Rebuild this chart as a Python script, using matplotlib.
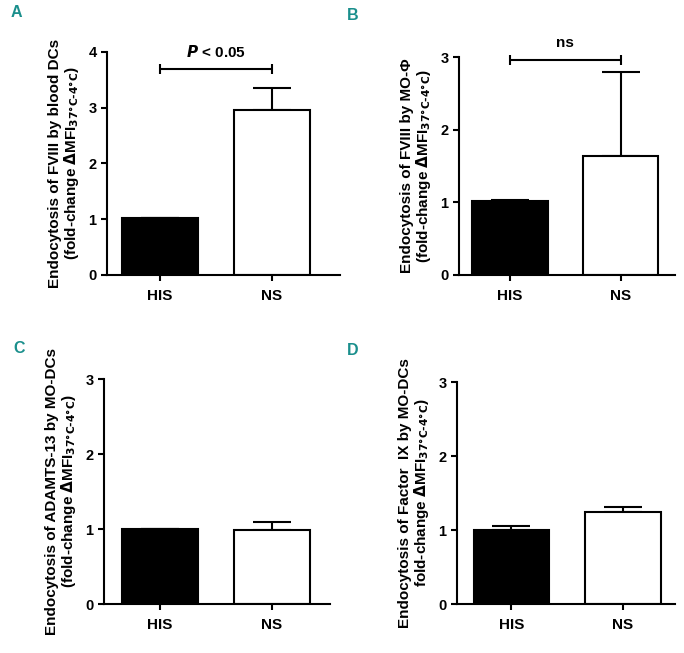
import numpy as np
import matplotlib.pyplot as plt

plt.rcParams['font.family'] = ['Liberation Sans', 'DejaVu Sans']
plt.rcParams['font.weight'] = 'bold'
plt.rcParams['mathtext.default'] = 'bf'

# datos
grupos = ['HIS', 'NS']
media_a = [1.02, 2.96]
err_a = [0.01, 0.39]
media_b = [1.02, 1.64]
err_b = [0.01, 1.16]
media_c = [1.0, 0.99]
err_c = [0.0, 0.10]
media_d = [1.0, 1.25]
err_d = [0.06, 0.06]

ylab_a = ['Endocytosis of FVIII by blood DCs', '(fold-change $\\Delta$MFI$_{37°C\\text{-}4°C}$)']
ylab_b = ['Endocytosis of FVIII by MO-Φ', '(fold-change $\\Delta$MFI$_{37°C\\text{-}4°C}$)']
ylab_c = ['Endocytosis of ADAMTS-13 by MO-DCs', '(fold-change $\\Delta$MFI$_{37°C\\text{-}4°C}$)']
ylab_d = ['Endocytosis of Factor  IX by MO-DCs', 'fold-change $\\Delta$MFI$_{37°C\\text{-}4°C}$)']

fig = plt.figure(figsize=(6.84, 6.53), dpi=100)

# posiciones de los ejes (fraccion de figura)
paneles = [
    ('A', [0.1564, 0.5789, 0.3406, 0.3415], (-0.47, 1.61), 4, media_a, err_a, ylab_a, (0.016, 0.974)),
    ('B', [0.6711, 0.5789, 0.3158, 0.3338], (-0.46, 1.49), 3, media_b, err_b, ylab_b, (0.507, 0.969)),
    ('C', [0.1520, 0.0750, 0.3304, 0.3446], (-0.50, 1.52), 3, media_c, err_c, ylab_c, (0.019, 0.459)),
    ('D', [0.6681, 0.0750, 0.3187, 0.3400], (-0.49, 1.47), 3, media_d, err_d, ylab_d, (0.507, 0.456)),
]

axes = {}
for letra, pos, xl, ymax, med, err, ylab, lpos in paneles:
    ax = fig.add_axes(pos)
    x = np.arange(len(grupos))
    ax.bar(x, med, width=0.68, color=['black', 'white'], edgecolor='black', linewidth=1.5, zorder=2)
    ax.errorbar(x, med, yerr=[np.zeros(len(err)), err], fmt='none', ecolor='black',
                elinewidth=1.5, capsize=13.5, capthick=1.5, zorder=1)
    ax.set_xlim(*xl)
    ax.set_ylim(0, ymax)
    ax.set_yticks(range(ymax + 1))
    ax.set_xticks(x)
    ax.set_xticklabels(grupos, fontsize=11, fontweight='bold')
    for lab in ax.get_yticklabels():
        lab.set_fontsize(10.5)
        lab.set_fontweight('bold')
    ax.spines['top'].set_visible(False)
    ax.spines['right'].set_visible(False)
    ax.spines['left'].set_linewidth(1.5)
    ax.spines['bottom'].set_linewidth(1.5)
    ax.tick_params(axis='both', width=1.5, length=4, direction='out')
    ax.tick_params(axis='x', pad=6)
    ax.set_ylabel(ylab[0] + '\n' + ylab[1], fontsize=11, fontweight='bold', labelpad=5,
                  linespacing=1.05)
    fig.text(lpos[0], lpos[1], letra, color='#1a8f8c', fontsize=11.5, fontweight='bold',
             family=['Liberation Sans Narrow', 'Liberation Sans'])
    axes[letra] = ax

# barras de significancia
def corchete(ax, y, texto, ty):
    ax.errorbar([0.5], [y], xerr=[[0.5], [0.5]], fmt='none', ecolor='black',
                elinewidth=1.5, capsize=3.6, capthick=1.5, clip_on=False)
    ax.text(0.5, ty, texto, ha='center', va='center', fontsize=11, fontweight='bold',
            clip_on=False)

corchete(axes['A'], 3.70, '$\\mathbfit{P}$ < 0.05', 4.0)
corchete(axes['B'], 2.96, 'ns', 3.19)

fig.savefig('out.png', dpi=100)
